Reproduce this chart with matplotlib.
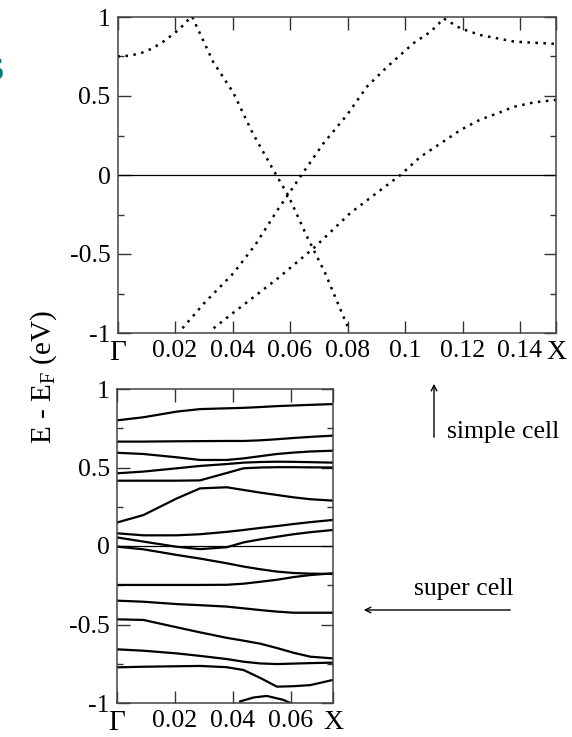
import matplotlib
matplotlib.use("Agg")
import matplotlib.pyplot as plt
from matplotlib.ticker import MultipleLocator

# simple cell (dotted bands)
band_a_x = [0, 0.004, 0.008, 0.012, 0.016, 0.02, 0.023, 0.0255]
band_a_y = [0.75, 0.755, 0.77, 0.80, 0.845, 0.9, 0.95, 1.0]
band_b_x = [0.026, 0.0333, 0.0403, 0.047, 0.0555, 0.0594, 0.0659, 0.0722, 0.0805]
band_b_y = [1.0, 0.715, 0.52, 0.265, -0.01, -0.13, -0.39, -0.62, -0.98]
band_c_x = [0.0226, 0.0302, 0.0404, 0.048, 0.0557, 0.064, 0.0716, 0.0798, 0.0868, 0.0938, 0.103, 0.1089, 0.1135]
band_c_y = [-0.97, -0.81, -0.62, -0.44, -0.22, 0, 0.2, 0.38, 0.56, 0.685, 0.835, 0.907, 0.99]
band_d_x = [0.1135, 0.1193, 0.1261, 0.1321, 0.138, 0.1449, 0.1525]
band_d_y = [0.99, 0.928, 0.886, 0.865, 0.844, 0.837, 0.83]
band_e_x = [0.0334, 0.0404, 0.0557, 0.0684, 0.081, 0.0915, 0.0984, 0.1054, 0.1124,
            0.1193, 0.1261, 0.1321, 0.1379, 0.1449, 0.1525]
band_e_y = [-0.97, -0.87, -0.655, -0.46, -0.24, -0.095, 0, 0.116, 0.2,
            0.285, 0.35, 0.39, 0.432, 0.46, 0.475]
simple_bands = [(band_a_x, band_a_y), (band_b_x, band_b_y), (band_c_x, band_c_y),
                (band_d_x, band_d_y), (band_e_x, band_e_y)]

# super cell (solid bands)
kx = [0, 0.0092, 0.0207, 0.0287, 0.0379, 0.0437, 0.0494, 0.0552, 0.0609, 0.0667, 0.0745]
super_bands = [
    [0.80, 0.82, 0.856, 0.872, 0.877, 0.88, 0.885, 0.891, 0.895, 0.899, 0.904],
    [0.665, 0.665, 0.667, 0.668, 0.669, 0.669, 0.673, 0.68, 0.688, 0.695, 0.703],
    [0.594, 0.586, 0.565, 0.548, 0.548, 0.558, 0.572, 0.586, 0.595, 0.602, 0.607],
    [0.463, 0.474, 0.495, 0.51, 0.522, 0.531, 0.535, 0.537, 0.536, 0.534, 0.531],
    [0.416, 0.416, 0.416, 0.418, 0.465, 0.495, 0.5, 0.502, 0.502, 0.501, 0.50],
    [0.149, 0.197, 0.303, 0.367, 0.374, 0.357, 0.34, 0.325, 0.31, 0.298, 0.289],
    [0.081, 0.068, 0.068, 0.075, 0.09, 0.102, 0.115, 0.127, 0.14, 0.152, 0.166],
    [0.055, 0.028, -0.005, -0.02, -0.008, 0.023, 0.042, 0.059, 0.075, 0.088, 0.102],
    [-0.004, -0.021, -0.057, -0.08, -0.11, -0.131, -0.148, -0.163, -0.172, -0.176, -0.178],
    [-0.248, -0.248, -0.248, -0.248, -0.247, -0.24, -0.228, -0.215, -0.198, -0.185, -0.174],
    [-0.348, -0.355, -0.37, -0.377, -0.386, -0.397, -0.408, -0.418, -0.425, -0.425, -0.425],
    [-0.467, -0.471, -0.518, -0.55, -0.585, -0.603, -0.622, -0.65, -0.68, -0.705, -0.716],
    [-0.658, -0.667, -0.684, -0.7, -0.72, -0.737, -0.748, -0.752, -0.749, -0.746, -0.743],
    [-0.773, -0.769, -0.766, -0.764, -0.772, -0.79, -0.84, -0.896, -0.893, -0.886, -0.853],
]
bump_x = [0.0425, 0.0471, 0.0517, 0.0574, 0.0598]
bump_y = [-0.99, -0.965, -0.955, -0.98, -1.0]

top_xmax = 0.1525
bot_xmax = 0.0745
top_ticks = [0, 0.02, 0.04, 0.06, 0.08, 0.1, 0.12, 0.14, top_xmax]
top_labels = ["\u0393", "0.02", "0.04", "0.06", "0.08", "0.1", "0.12", "0.14", "X"]
bot_ticks = [0, 0.02, 0.04, 0.06, bot_xmax]
bot_labels = ["\u0393", "0.02", "0.04", "0.06", "X"]
y_ticks = [-1, -0.5, 0, 0.5, 1]
y_labels = ["-1", "-0.5", "0", "0.5", "1"]

W, H = 572, 737


def style_axes(ax, xmax, xticks, xlabels):
	ax.set_xlim(0, xmax)
	ax.set_ylim(-1, 1)
	ax.axhline(0, color="black", lw=0.9)
	ax.set_xticks(xticks)
	ax.set_xticklabels(xlabels)
	ax.set_yticks(y_ticks)
	ax.set_yticklabels(y_labels)
	ax.yaxis.set_minor_locator(MultipleLocator(0.25))
	ax.tick_params(which="both", direction="in", top=True, right=True, colors="#333333",
				   labelcolor="black", labelsize=18.5, width=1)
	ax.tick_params(which="major", length=9, pad=5)
	ax.tick_params(which="minor", length=4.5)
	labels = ax.get_xticklabels()
	labels[0].set_fontsize(21)
	labels[-1].set_fontsize(20)
	for s in ax.spines.values():
		s.set_color("#444444")
		s.set_linewidth(1.1)


def main():
	plt.rcParams["font.family"] = ["Liberation Serif", "DejaVu Serif"]
	plt.rcParams["axes.unicode_minus"] = False

	fig = plt.figure(figsize=(W / 100, H / 100), dpi=100)
	ax1 = fig.add_axes([117.5 / W, 1 - 333 / H, (556 - 117.5) / W, 316 / H])
	ax2 = fig.add_axes([116.7 / W, 1 - 703 / H, (333 - 116.7) / W, 314 / H])

	for bx, by in simple_bands:
		ax1.plot(bx, by, color="black", lw=1.8, ls=(0, (1, 2.2)))
	style_axes(ax1, top_xmax, top_ticks, top_labels)

	for by in super_bands:
		ax2.plot(kx, by, color="black", lw=1.6)
	ax2.plot(bump_x, bump_y, color="black", lw=1.6)
	style_axes(ax2, bot_xmax, bot_ticks, bot_labels)

	fig.text(44 / W, 1 - 377 / H, "E - E$_\\mathregular{F}$ (eV)", rotation=90,
			 ha="center", va="center", fontsize=21)

	fig.text(447 / W, 1 - 432 / H, "simple cell", ha="left", va="center", fontsize=18.5)
	ax1.annotate("", xy=(434 / W, 1 - 381 / H), xytext=(434 / W, 1 - 440 / H),
				 xycoords="figure fraction", textcoords="figure fraction",
				 arrowprops=dict(arrowstyle="->", lw=1, color="black"))
	fig.text(464 / W, 1 - 589 / H, "super cell", ha="center", va="center", fontsize=18.5)
	ax1.annotate("", xy=(361 / W, 1 - 610 / H), xytext=(513 / W, 1 - 610 / H),
				 xycoords="figure fraction", textcoords="figure fraction",
				 arrowprops=dict(arrowstyle="->", lw=1, color="black"))

	# cut-off glyph at the left edge
	fig.text(-0.03, 1 - 72 / H, "S", color="#0a7a7a", fontsize=22, fontweight="bold",
			 ha="left", va="center", family="DejaVu Sans")

	fig.savefig("out.png", dpi=100)


if __name__ == '__main__':
	main()
